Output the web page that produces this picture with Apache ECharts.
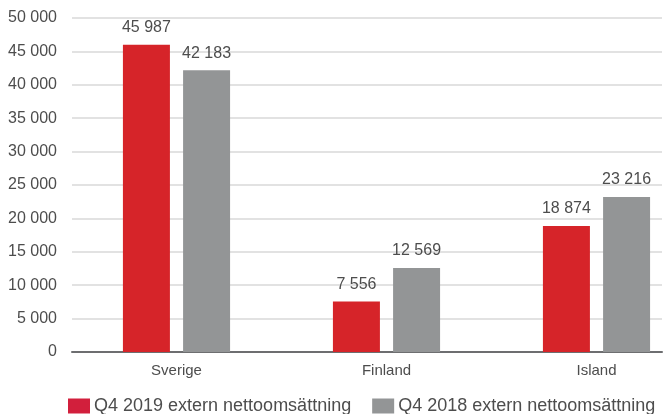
<!DOCTYPE html>
<html>
<head>
<meta charset="utf-8">
<script src="https://cdn.jsdelivr.net/npm/echarts@6/dist/echarts.min.js"></script>
<style>html,body{margin:0;padding:0;background:#fff}#c{width:672px;height:414px}</style>
</head>
<body>
<div id="c"></div>
<script>
const categories = ['Sverige', 'Finland', 'Island'];
const q4_2019 = [45987, 7556, 18874];
const q4_2018 = [42183, 12569, 23216];
const seriesNames = ['Q4 2019 extern nettoomsättning', 'Q4 2018 extern nettoomsättning'];
const yMin = 0, yMax = 50000, yStep = 5000;

const FONT = '"Liberation Sans", Arial, Helvetica, sans-serif';
const TXT = '#4d4d4d';
const RED = '#d62429', GRAY = '#939596';
const fmt = v => String(v).replace(/\B(?=(\d{3})+(?!\d))/g, ' ');

const chart = echarts.init(document.getElementById('c'));
chart.setOption({
  animation: false,
  textStyle: { fontFamily: FONT },
  grid: [
    { left: 72, right: 10, top: 18, bottom: 62, outerBoundsMode: 'none' },
    { left: 71.5, width: 630, top: 18, bottom: 62, outerBoundsMode: 'none' }
  ],
  xAxis: [
    { gridIndex: 0, type: 'category', data: [''], axisLine: { show: true, lineStyle: { color: '#6d6e70', width: 2 } },
      axisTick: { show: false }, axisLabel: { show: false } },
    { gridIndex: 1, type: 'category', data: categories, axisLine: { show: false }, axisTick: { show: false },
      axisLabel: { color: TXT, fontSize: 15, fontFamily: FONT, margin: 11 } }
  ],
  yAxis: [
    { gridIndex: 0, type: 'value', min: yMin, max: yMax, interval: yStep,
      axisLine: { show: false }, axisTick: { show: false },
      axisLabel: { color: TXT, fontSize: 16, fontFamily: FONT, margin: 15, formatter: fmt },
      splitLine: { lineStyle: { color: '#d9d9d9', width: 1.5 } } },
    { gridIndex: 1, type: 'value', min: yMin, max: yMax, interval: yStep, show: false, splitLine: { show: false } }
  ],
  legend: {
    left: 63, top: 392, itemWidth: 22, itemHeight: 15, itemGap: 21,
    icon: 'rect',
    textStyle: { color: TXT, fontSize: 18, fontFamily: FONT, padding: [0, 0, 0, -1] },
    data: [
      { name: seriesNames[0], itemStyle: { color: '#d21f3c' } },
      { name: seriesNames[1] }
    ]
  },
  series: [
    { name: seriesNames[0], type: 'bar', xAxisIndex: 1, yAxisIndex: 1, data: q4_2019,
      barWidth: 47, barGap: '28%', itemStyle: { color: RED },
      label: { show: true, position: 'top', distance: 9, color: TXT, fontSize: 16, fontFamily: FONT, formatter: p => fmt(p.value) } },
    { name: seriesNames[1], type: 'bar', xAxisIndex: 1, yAxisIndex: 1, data: q4_2018,
      barWidth: 47, barGap: '28%', itemStyle: { color: GRAY },
      label: { show: true, position: 'top', distance: 9, color: TXT, fontSize: 16, fontFamily: FONT, formatter: p => fmt(p.value) } }
  ]
});
</script>
</body>
</html>
